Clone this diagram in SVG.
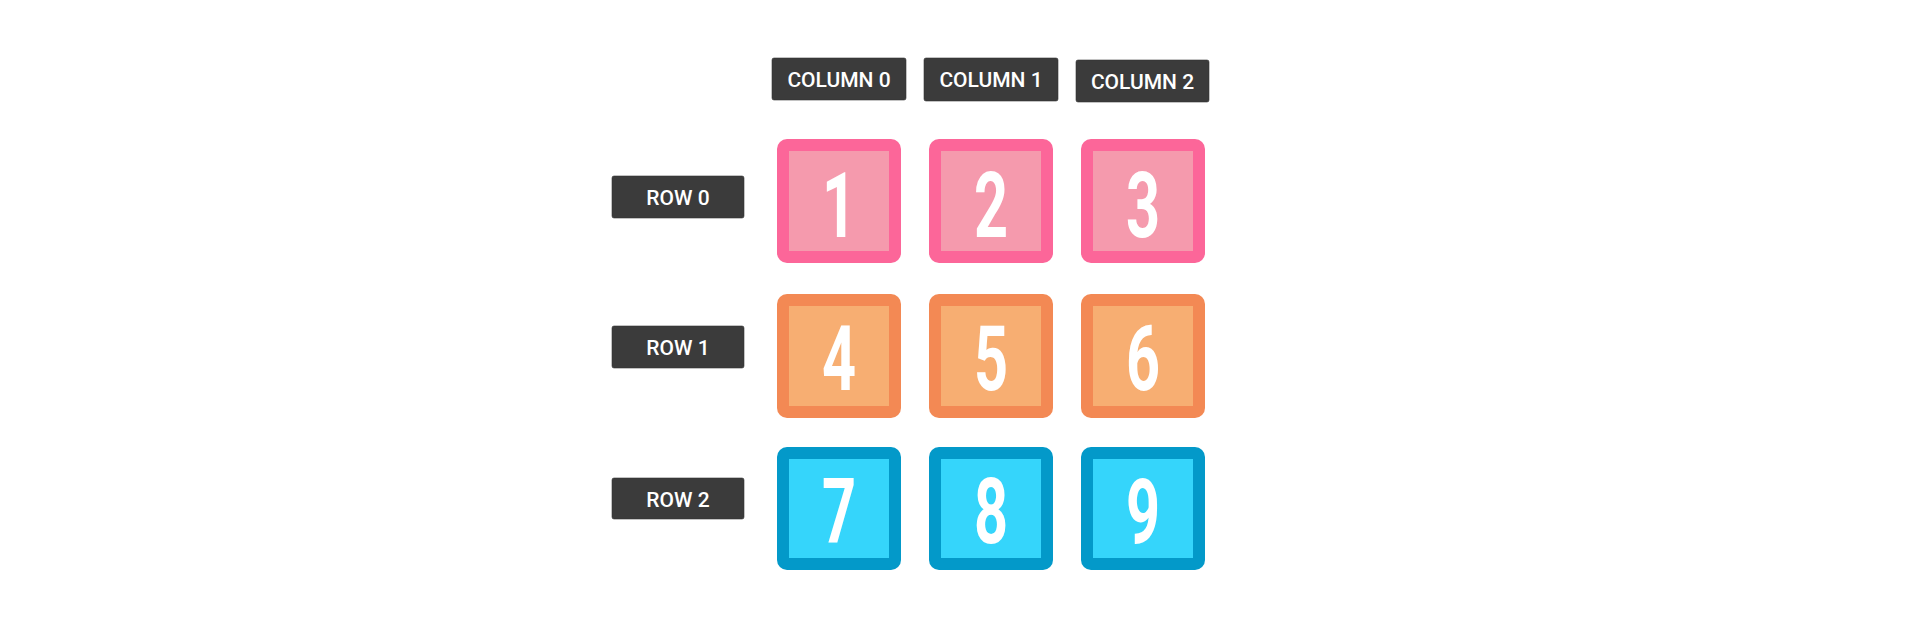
<svg xmlns="http://www.w3.org/2000/svg" width="1915" height="639" viewBox="0 0 1915 639">
<style>
.lbl{fill:#3b3b3b;stroke:#333333;stroke-width:0.6}
.lt{font-family:Roboto,"Liberation Sans",sans-serif;font-weight:500;font-size:21px;fill:#ffffff;text-anchor:middle}
.dg{font-family:Roboto,"Liberation Sans",sans-serif;font-weight:700;font-size:90px;fill:#ffffff;text-anchor:middle}
.po{fill:#fc6699}.pi{fill:#f59aad}
.oo{fill:#f38954}.oi{fill:#f7ae72}
.bo{fill:#0399c9}.bi{fill:#35d5fb}
</style>
<rect width="1915" height="639" fill="#ffffff"/>
<g id="connectors"></g>
<g id="col0"><rect class="lbl" x="772" y="58" width="134" height="42" rx="2"/><text class="lt" x="839" y="87.3">COLUMN 0</text></g>
<g id="col1"><rect class="lbl" x="924" y="58" width="134" height="43" rx="2"/><text class="lt" x="991" y="86.8">COLUMN 1</text></g>
<g id="col2"><rect class="lbl" x="1076" y="60" width="133" height="42" rx="2"/><text class="lt" x="1142.5" y="89">COLUMN 2</text></g>
<g id="row0"><rect class="lbl" x="612" y="176" width="132" height="42" rx="2"/><text class="lt" x="678" y="205">ROW 0</text></g>
<g id="row1"><rect class="lbl" x="612" y="326" width="132" height="42" rx="2"/><text class="lt" x="678" y="355">ROW 1</text></g>
<g id="row2"><rect class="lbl" x="612" y="478" width="132" height="41" rx="2"/><text class="lt" x="678" y="507.3">ROW 2</text></g>
<g id="n1"><rect class="po" x="777" y="139" width="124" height="124" rx="10"/><rect class="pi" x="789" y="151" width="100" height="100"/><text class="dg" transform="translate(839,237) scale(0.66,1)">1</text></g>
<g id="n2"><rect class="po" x="929" y="139" width="124" height="124" rx="10"/><rect class="pi" x="941" y="151" width="100" height="100"/><text class="dg" transform="translate(991,237) scale(0.66,1)">2</text></g>
<g id="n3"><rect class="po" x="1081" y="139" width="124" height="124" rx="10"/><rect class="pi" x="1093" y="151" width="100" height="100"/><text class="dg" transform="translate(1143,237) scale(0.66,1)">3</text></g>
<g id="n4"><rect class="oo" x="777" y="294" width="124" height="124" rx="10"/><rect class="oi" x="789" y="306" width="100" height="100"/><text class="dg" transform="translate(839,390) scale(0.66,1)">4</text></g>
<g id="n5"><rect class="oo" x="929" y="294" width="124" height="124" rx="10"/><rect class="oi" x="941" y="306" width="100" height="100"/><text class="dg" transform="translate(991,390) scale(0.66,1)">5</text></g>
<g id="n6"><rect class="oo" x="1081" y="294" width="124" height="124" rx="10"/><rect class="oi" x="1093" y="306" width="100" height="100"/><text class="dg" transform="translate(1143,390) scale(0.66,1)">6</text></g>
<g id="n7"><rect class="bo" x="777" y="447" width="124" height="123" rx="10"/><rect class="bi" x="789" y="459" width="100" height="99"/><text class="dg" transform="translate(839,543) scale(0.66,1)">7</text></g>
<g id="n8"><rect class="bo" x="929" y="447" width="124" height="123" rx="10"/><rect class="bi" x="941" y="459" width="100" height="99"/><text class="dg" transform="translate(991,543) scale(0.66,1)">8</text></g>
<g id="n9"><rect class="bo" x="1081" y="447" width="124" height="123" rx="10"/><rect class="bi" x="1093" y="459" width="100" height="99"/><text class="dg" transform="translate(1143,543) scale(0.66,1)">9</text></g>
</svg>
